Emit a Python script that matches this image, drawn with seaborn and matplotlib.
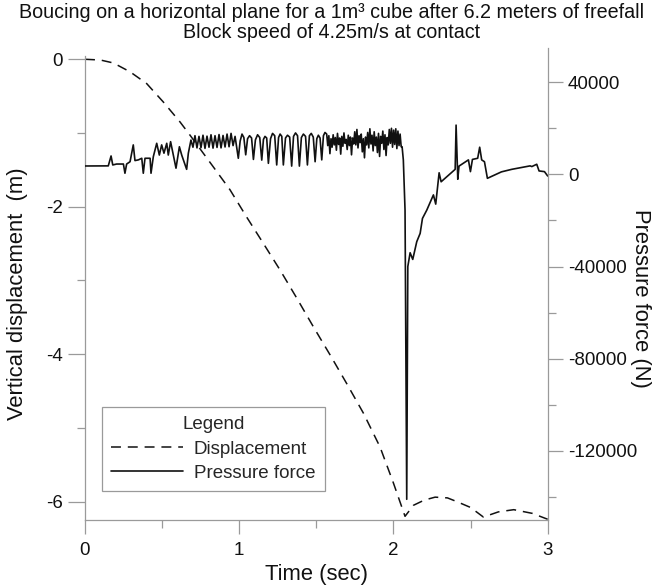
import matplotlib
matplotlib.use("Agg")
import matplotlib.pyplot as plt
from matplotlib.ticker import MultipleLocator
from matplotlib.lines import Line2D
import seaborn as sns
import pandas as pd

# ---------------- data ----------------
disp_time = [0.0, 0.10, 0.184, 0.292, 0.400, 0.508, 0.616, 0.681, 0.832, 0.940,
             1.048, 1.157, 1.265, 1.373, 1.481, 1.589, 1.697, 1.805, 1.913, 2.0,
             2.075, 2.13, 2.20, 2.27, 2.35, 2.41, 2.50, 2.583, 2.68, 2.78, 2.90, 3.0]
disp_value = [0.0, -0.01, -0.05, -0.17, -0.33, -0.58, -0.85, -1.03, -1.46, -1.77,
              -2.14, -2.50, -2.86, -3.24, -3.63, -4.01, -4.40, -4.80, -5.26, -5.75,
              -6.20, -6.05, -5.98, -5.94, -5.95, -6.00, -6.08, -6.21, -6.14, -6.11, -6.16, -6.24]

press_time = [
    0.0, 0.151, 0.169, 0.180, 0.205, 0.249, 0.259, 0.270, 0.292, 0.313, 0.324, 0.346,
    0.368, 0.378, 0.389, 0.422, 0.428, 0.443, 0.465, 0.482, 0.497, 0.512, 0.530, 0.540,
    0.555, 0.573, 0.590, 0.612, 0.627, 0.659, 0.670, 0.687,
    0.700, 0.713, 0.726, 0.739, 0.752, 0.765, 0.778, 0.791, 0.804, 0.817, 0.830, 0.843,
    0.856, 0.869, 0.882, 0.895, 0.908, 0.921, 0.934, 0.947, 0.960, 0.973,
    0.994, 1.006, 1.018, 1.030, 1.042, 1.054, 1.067, 1.080, 1.092, 1.105, 1.119, 1.133,
    1.146, 1.157, 1.167, 1.178, 1.189, 1.203, 1.216, 1.230, 1.243, 1.255, 1.265, 1.276,
    1.286, 1.300, 1.313, 1.327, 1.340, 1.352, 1.365, 1.378, 1.390, 1.403, 1.416, 1.430,
    1.442, 1.455, 1.467, 1.480, 1.492, 1.503, 1.513, 1.524, 1.535, 1.546, 1.556,
    1.567, 1.574, 1.581, 1.588, 1.595, 1.602, 1.609, 1.616, 1.623, 1.630, 1.637, 1.644,
    1.651, 1.658, 1.665, 1.672, 1.679, 1.686, 1.693, 1.700, 1.707, 1.714, 1.721, 1.728,
    1.735, 1.742, 1.749, 1.756, 1.763, 1.770, 1.777, 1.784, 1.791, 1.798, 1.805, 1.812,
    1.819, 1.826, 1.833, 1.840, 1.847, 1.854, 1.861, 1.868, 1.875, 1.882, 1.889, 1.896,
    1.903, 1.910, 1.917, 1.924, 1.931, 1.938, 1.945, 1.952, 1.959, 1.966, 1.973, 1.980,
    1.987, 1.994, 2.001, 2.008, 2.015, 2.022, 2.029, 2.036, 2.043, 2.050,
    2.056, 2.064, 2.075, 2.086, 2.093, 2.108, 2.125, 2.151, 2.173, 2.188, 2.216, 2.259,
    2.274, 2.296, 2.309, 2.400, 2.406, 2.417, 2.425, 2.486, 2.499, 2.512, 2.546, 2.559,
    2.572, 2.590, 2.609, 2.700, 2.767, 2.886, 2.897, 2.929, 2.944, 2.979, 3.000]
press_value = [
    3650, 3700, 8000, 4100, 4500, 4500, 500, 4500, 5500, 12800, 6000, 6300,
    7000, 500, 7000, 7000, 500, 7700, 13500, 8400, 12800, 9200, 13500, 8400,
    14200, 8400, 2700, 12000, 8400, 2200, 9200, 14900,
    11800, 16800, 11500, 16500, 11600, 17000, 11300, 16600, 11800, 17200, 11400, 16800,
    11700, 17300, 11500, 16900, 11900, 17500, 12000, 17800, 12500, 16500,
    7000, 14500, 17500, 16000, 8500, 15500, 16800, 15800, 6500, 15000, 17200, 16000,
    6200, 15200, 16500, 15800, 4800, 15500, 17800, 16800, 4100, 16000, 17500, 16500,
    4100, 15800, 17000, 16200, 3600, 16500, 18000, 16800, 3600, 16000, 17500, 16500,
    4100, 16800, 17800, 16200, 5500, 15500, 17000, 15800, 6300, 16800, 18200,
    17500, 12500, 16800, 9000, 15500, 11800, 17200, 12800, 16000, 10500, 17800, 13000,
    15800, 8800, 16500, 12200, 18000, 13500, 15200, 10800, 17000, 12500, 16200, 8500,
    15800, 13200, 18500, 12800, 19500, 11500, 16800, 13800, 17500, 9800, 15500, 7200,
    16200, 12800, 18200, 11500, 19800, 13200, 17000, 10200, 18500, 12500, 16200, 9500,
    17800, 7800, 16500, 13500, 18800, 10800, 17200, 8200, 16000, 12800, 19500, 13500,
    20000, 11800, 19200, 13000, 19800, 11200, 18800, 12500, 17500, 12000,
    12000, 6250, -15450, -141000, -40000, -34000, -36900, -29200, -25600, -19100, -15500, -8900,
    -12900, 700, -3200, 2200, 21400, -2100, 3600, 6300, 1200, 6500, 7000, 11800,
    6300, 5500, -1700, 1100, 2200, 3700, 3400, 4400, 1500, 1200, -700]

x_ticks = [0, 1, 2, 3]
left_ticks = [0, -2, -4, -6]
right_ticks = [40000, 0, -40000, -80000, -120000]

title_text = "Boucing on a horizontal plane for a 1m\u00b3 cube after 6.2 meters of freefall\nBlock speed of 4.25m/s at contact"

disp_df = pd.DataFrame({"t": disp_time, "v": disp_value})
press_df = pd.DataFrame({"t": press_time, "v": press_value})

# ---------------- style ----------------
sns.set_theme(style="white")
plt.rcParams["font.family"] = ["Liberation Sans", "DejaVu Sans"]
FS = 13.5
LFS = 15.8
GRAY = "#9a9a9a"
INK = "#111111"

W, H = 663, 588
fig = plt.figure(figsize=(W / 100, H / 100), dpi=100)
ax = fig.add_axes([85 / W, (H - 520) / H, (547.7 - 85) / W, (520 - 48) / H])
ax2 = ax.twinx()

sns.lineplot(data=disp_df, x="t", y="v", ax=ax, color=INK, lw=1.1,
             estimator=None, sort=False)
ax.lines[-1].set_dashes((6.5, 4.5))
sns.lineplot(data=press_df, x="t", y="v", ax=ax2, color=INK, lw=1.2,
             estimator=None, sort=False)

ax.set_xlim(0, 3)
ax.set_ylim(-6.25, 0.153)
ax2.set_ylim(-150000, 54860)

for a in (ax, ax2):
    a.set_facecolor("none")
    a.spines["top"].set_visible(False)
    for s in a.spines.values():
        s.set_color(GRAY)
        s.set_linewidth(0.9)
ax.spines["right"].set_visible(False)
ax2.spines["left"].set_visible(False)
ax2.spines["bottom"].set_visible(False)
ax.spines["left"].set_bounds(-6.25, 0.04)

ax.set_xticks(x_ticks)
ax.xaxis.set_minor_locator(MultipleLocator(0.5))
ax.set_yticks(left_ticks)
ax.yaxis.set_minor_locator(MultipleLocator(1))
ax2.set_yticks(right_ticks)
ax2.yaxis.set_minor_locator(MultipleLocator(20000))

ax.tick_params(axis="x", which="major", direction="out", length=10, width=0.9,
               color=GRAY, labelsize=FS, labelcolor=INK, pad=6, bottom=True)
ax.tick_params(axis="x", which="minor", direction="out", length=6, width=0.9,
               color=GRAY, bottom=True)
ax.tick_params(axis="y", which="major", direction="out", length=12, width=0.9,
               color=GRAY, labelsize=FS, labelcolor=INK, pad=4, left=True)
ax.tick_params(axis="y", which="minor", direction="out", length=6, width=0.9,
               color=GRAY, left=True)
ax2.tick_params(axis="y", which="major", direction="out", length=11, width=0.9,
                color=GRAY, labelsize=FS, labelcolor=INK, pad=3.5, right=True)
ax2.tick_params(axis="y", which="minor", direction="out", length=6, width=0.9,
                color=GRAY, right=True)
ax2.set_yticklabels([str(v) for v in right_ticks])
ax.set_yticklabels([str(v) for v in left_ticks])
ax.set_xticklabels([str(v) for v in x_ticks])

ax.set_xlabel("Time (sec)", fontsize=LFS, color=INK, labelpad=3.5)
ax.set_ylabel("Vertical displacement  (m)", fontsize=LFS, color=INK)
ax.yaxis.set_label_coords((18 - 85) / 462.7, 0.48)
ax.yaxis.label.set_va("center")
ax2.set_ylabel("Pressure force (N)", fontsize=LFS, color=INK, rotation=-90)
ax2.yaxis.set_label_coords(1.2, 0.47)
ax2.yaxis.label.set_va("center")

fig.text(0.5, 1 - 3 / H, title_text, ha="center", va="top", fontsize=14.2,
         color=INK, linespacing=1.04)

handles = [Line2D([], [], color=INK, lw=1.1, dashes=(6.5, 4.5)),
           Line2D([], [], color=INK, lw=1.2)]
leg = ax.legend(handles, ["Displacement", "Pressure force"], title="Legend",
                loc="upper left", bbox_to_anchor=(102 / W, 1 - 407 / H),
                bbox_transform=fig.transFigure, fontsize=FS, title_fontsize=FS,
                frameon=True, fancybox=False, framealpha=1, edgecolor=GRAY,
                handlelength=3.8, handletextpad=0.6, borderpad=0.5,
                labelspacing=0.38, borderaxespad=0)
leg.get_frame().set_linewidth(0.9)
leg.set_zorder(10)

fig.savefig("out.png", dpi=100, facecolor="white")
